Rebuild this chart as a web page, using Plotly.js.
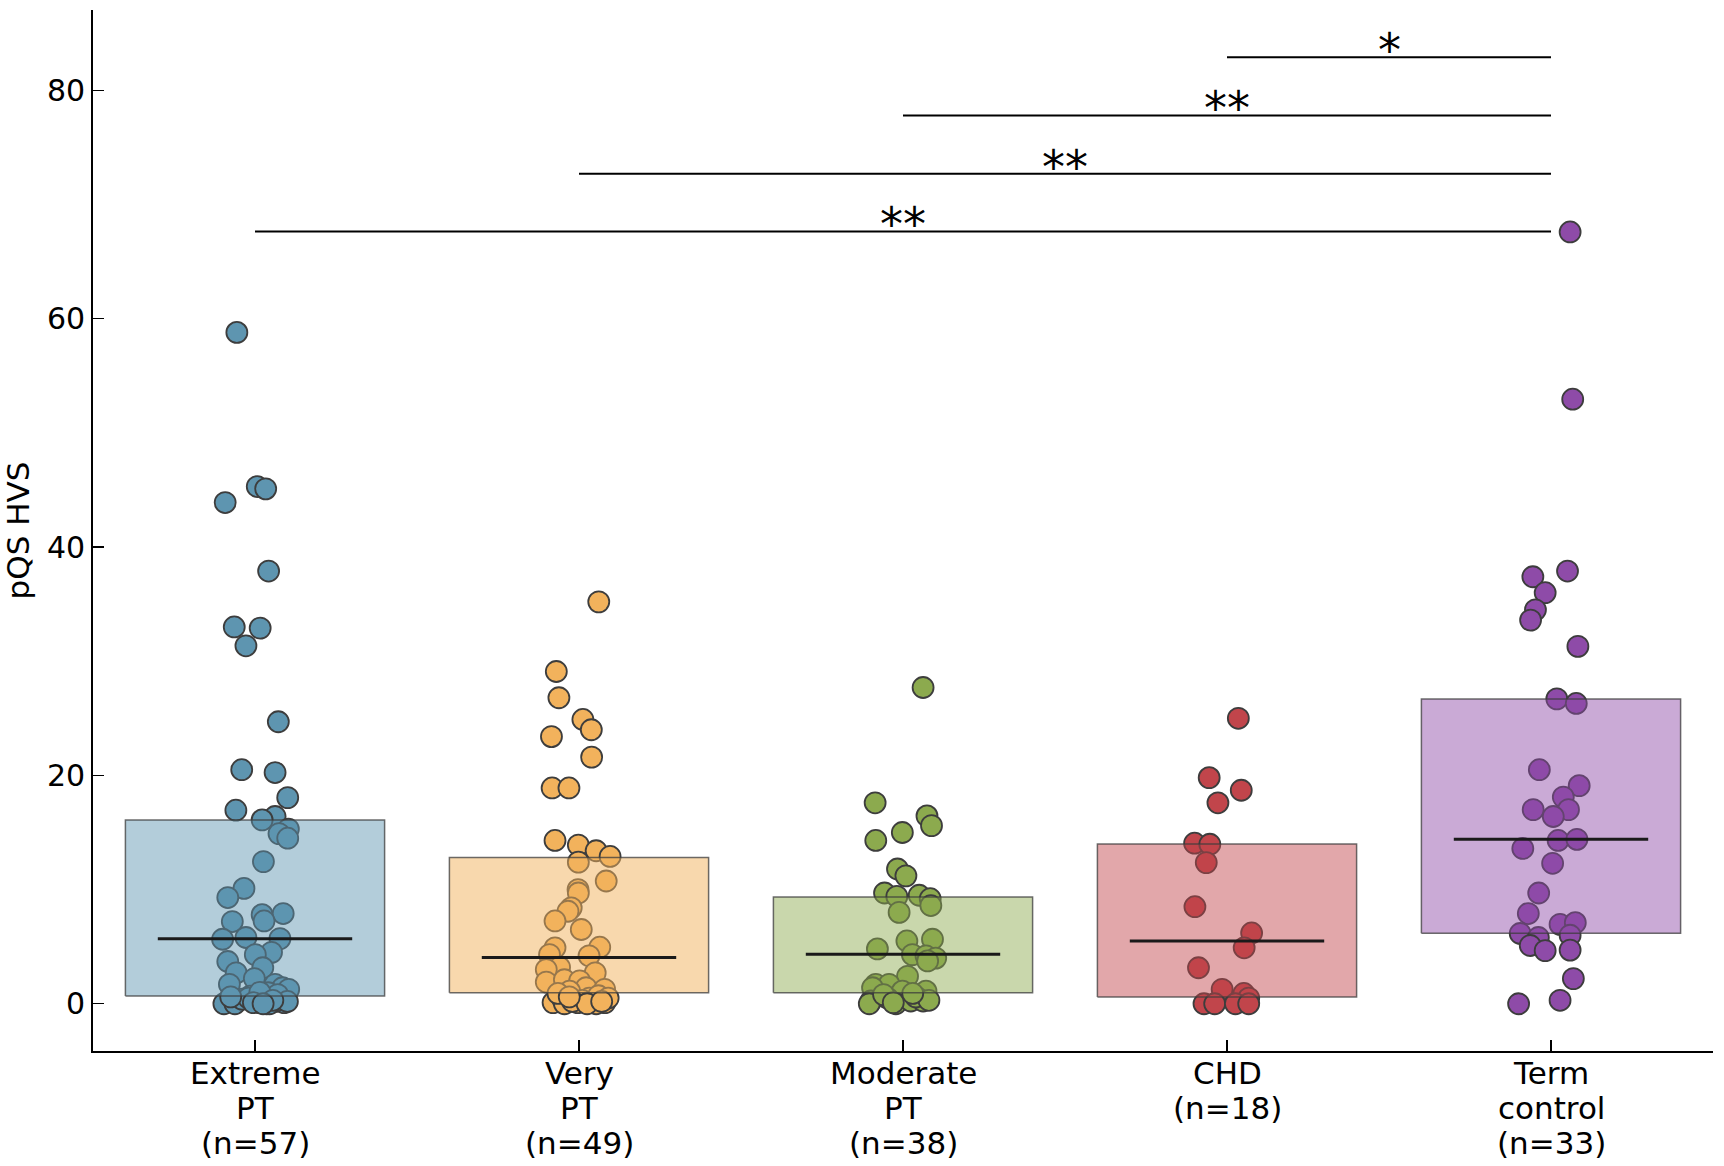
<!DOCTYPE html>
<html>
<head>
<meta charset="utf-8">
<script src="https://cdn.plot.ly/plotly-3.0.1.min.js"></script>
<style>html,body{margin:0;padding:0;background:#fff;}#chart{width:1724px;height:1166px;}</style>
</head>
<body>
<div id="chart"></div>
<script>
// ---- data ----
const categories = ['Extreme PT', 'Very PT', 'Moderate PT', 'CHD', 'Term control'];
const tickLabels = ['Extreme<br>PT<br>(n=57)', 'Very<br>PT<br>(n=49)', 'Moderate<br>PT<br>(n=38)', 'CHD<br>(n=18)', 'Term<br>control<br>(n=33)'];

const extremeVals = [58.8, 43.9, 45.3, 45.1, 37.9, 33.0, 32.9, 31.35, 24.7, 20.5, 20.25, 18.05, 16.95, 16.4, 16.1, 15.3, 14.9, 14.5, 12.45, 10.1, 9.3, 7.8, 7.9, 7.25, 7.2, 5.65, 5.8, 5.7, 4.5, 4.3, 3.7, 3.15, 2.7, 2.2, 1.7, 1.7, 1.4, 1.26, 0.96, 0.67, 0.3,
  0, 0, 0.1, 0.2, 0, 0.4, 0.1, 0.8, 0.5, 0.2, 0, 0.6, 1.0, 0.3, 0.1, 0];
const extremeJit = [-0.056, -0.092, 0.007, 0.033, 0.042, -0.064, 0.016, -0.028, 0.072, -0.041, 0.062, 0.101, -0.059, 0.062, 0.022, 0.103, 0.074, 0.101, 0.026, -0.034, -0.084, 0.022, 0.087, 0.028, -0.070, -0.100, -0.028, 0.077, 0.051, 0.001, -0.084, 0.024, -0.058, -0.002, -0.079, 0.062, 0.085, 0.104, 0.041, -0.015, 0.005,
  -0.096, -0.062, 0.090, 0.063, 0.036, -0.040, 0.010, 0.070, -0.020, 0.100, 0.045, -0.075, 0.015, 0.055, -0.005, 0.025];

const veryVals = [35.2, 29.1, 26.8, 24.9, 24.0, 23.4, 21.6, 18.9, 18.9, 14.3, 13.9, 13.4, 12.9, 12.4, 10.75, 10.0, 9.7, 8.4, 8.1, 7.25, 6.5, 4.9, 4.95, 4.2, 4.3, 3.2, 3.0, 2.7, 1.9, 2.1, 2.0, 1.4, 1.26, 1.1,
  0.1, 0.4, 0.1, 0.5, 0.1, 0, 0, 0.3, 0.7, 0.2, 0.9, 0, 0.5, 0.2, 0.6];
const veryJit = [0.061, -0.070, -0.062, 0.012, 0.038, -0.085, 0.039, -0.083, -0.031, -0.074, -0.002, 0.053, 0.096, -0.002, 0.084, -0.003, -0.002, -0.024, -0.034, -0.074, 0.007, -0.074, 0.064, 0.031, -0.091, -0.060, -0.101, 0.050, -0.101, -0.045, 0.002, 0.022, 0.079, -0.029,
  -0.080, -0.050, -0.004, 0.032, 0.080, 0.053, -0.045, 0.010, 0.060, -0.020, -0.065, 0.025, 0.090, 0.070, -0.030];

const moderateVals = [27.7, 17.6, 16.45, 15.6, 15.0, 14.3, 11.8, 11.2, 9.7, 9.4, 9.5, 9.2, 8.6, 8.0, 5.5, 5.65, 4.8, 4.3, 4.2, 4.0, 3.75, 2.4, 1.7, 1.7, 1.4, 1.1, 1.1,
  0.24, 0.5, 0, 0.24, 0.24, 0, 0.6, 0.8, 0.3, 0.1, 0.9];
const moderateJit = [0.062, -0.086, 0.074, 0.088, -0.002, -0.084, -0.017, 0.009, -0.057, -0.019, 0.050, 0.084, 0.086, -0.012, 0.012, 0.091, -0.079, 0.029, 0.071, 0.101, 0.076, 0.014, -0.084, -0.043, -0.094, -0.002, 0.071,
  -0.099, -0.048, -0.022, 0.024, 0.062, -0.104, 0.040, -0.060, 0.080, -0.030, 0.030];

const chdVals = [25.0, 19.8, 18.7, 17.6, 14.06, 13.97, 12.36, 8.5, 6.2, 4.9, 3.15, 1.26, 0.9, 0.5, 0, 0, 0, 0];
const chdJit = [0.035, -0.055, 0.044, -0.028, -0.100, -0.053, -0.064, -0.099, 0.076, 0.053, -0.088, -0.015, 0.052, 0.067, -0.071, -0.038, 0.026, 0.067];

const termVals = [67.6, 52.95, 37.4, 37.9, 36.0, 34.5, 33.6, 31.3, 26.7, 26.3, 20.5, 19.1, 18.1, 17.0, 17.0, 16.4, 14.3, 14.4, 13.6, 12.3, 9.7, 7.9, 6.15, 5.8, 6.95, 7.1, 6.0, 5.1, 4.65, 4.7, 2.2, 0, 0.3];
const termJit = [0.059, 0.067, -0.056, 0.051, -0.018, -0.048, -0.063, 0.083, 0.018, 0.078, -0.036, 0.087, 0.038, -0.055, 0.054, 0.007, 0.022, 0.080, -0.087, 0.005, -0.038, -0.070, -0.095, -0.039, 0.028, 0.075, 0.059, -0.064, -0.018, 0.059, 0.069, -0.100, 0.028];

const boxLow  = [0.67, 0.96, 0.96, 0.58, 6.17];
const boxHigh = [16.1, 12.8, 9.35, 14.0, 26.7];
const medians = [5.7, 4.05, 4.34, 5.5, 14.4];

const sigStart = [3, 2, 1, 0];
const sigEnd   = [4, 4, 4, 4];
const sigY     = [82.9, 77.8, 72.7, 67.65];
const sigText  = ['*', '**', '**', '**'];

// ---- styling ----
const pointColors = ['#5E95B0', '#F2B25C', '#8CAA4E', '#C1454B', '#8E4BA8'];
const fillColors  = ['rgba(94,149,176,0.47)', 'rgba(242,178,92,0.5)', 'rgba(140,170,78,0.47)', 'rgba(193,69,75,0.47)', 'rgba(142,75,168,0.47)'];
const FONT = 'DejaVu Sans, Liberation Sans, sans-serif';

const groupVals = [extremeVals, veryVals, moderateVals, chdVals, termVals];
const groupJit  = [extremeJit, veryJit, moderateJit, chdJit, termJit];

const traces = [];
const halfBox = 0.4, halfMed = 0.3;
groupVals.forEach((vals, i) => {
  traces.push({
    type: 'scatter', mode: 'markers', name: categories[i],
    x: groupJit[i].map(j => i + j), y: vals,
    marker: {size: 21, color: pointColors[i], line: {color: '#3d3d3d', width: 1.8}},
    hoverinfo: 'y', showlegend: false
  });
  traces.push({
    type: 'scatter', mode: 'lines', fill: 'toself',
    x: [i - halfBox, i + halfBox, i + halfBox, i - halfBox, i - halfBox],
    y: [boxLow[i], boxLow[i], boxHigh[i], boxHigh[i], boxLow[i]],
    fillcolor: fillColors[i], line: {color: 'rgba(60,60,60,0.75)', width: 1.5},
    hoverinfo: 'skip', showlegend: false
  });
  traces.push({
    type: 'scatter', mode: 'lines',
    x: [i - halfMed, i + halfMed], y: [medians[i], medians[i]],
    line: {color: '#1a1a1a', width: 3}, hoverinfo: 'skip', showlegend: false
  });
});

const annotations = [];
sigY.forEach((h, k) => {
  traces.push({
    type: 'scatter', mode: 'lines',
    x: [sigStart[k], sigEnd[k]], y: [h, h],
    line: {color: '#000', width: 2}, hoverinfo: 'skip', showlegend: false
  });
  annotations.push({
    x: (sigStart[k] + sigEnd[k]) / 2, y: h, xref: 'x', yref: 'y',
    text: sigText[k], showarrow: false, yanchor: 'bottom', yshift: -22,
    font: {family: FONT, size: 46, color: '#000'}
  });
});

// category labels below the x axis (one text per line for matplotlib-like line spacing)
const LINE_GAP = 35;
tickLabels.forEach((lbl, i) => {
  lbl.split('<br>').forEach((line, j) => {
    annotations.push({
      x: i, xref: 'x', y: 0, yref: 'paper', yanchor: 'top', xanchor: 'center',
      yshift: -3 - j * LINE_GAP, borderpad: 0,
      text: line, showarrow: false,
      font: {family: FONT, size: 31, color: '#000'}
    });
  });
});

const layout = {
  width: 1724, height: 1166,
  margin: {l: 93, r: 11, t: 10, b: 115},
  paper_bgcolor: '#fff', plot_bgcolor: '#fff',
  font: {family: FONT, size: 28, color: '#000'},
  showlegend: false,
  xaxis: {
    range: [-0.5, 4.5], tickmode: 'array', tickvals: [0, 1, 2, 3, 4], ticktext: ['', '', '', '', ''],
    showticklabels: false,
    showgrid: false, zeroline: false, showline: true, linecolor: '#000', linewidth: 1.8,
    ticks: 'inside', ticklen: 11, tickwidth: 1.5, tickcolor: '#000', fixedrange: true
  },
  yaxis: {
    range: [-4.14, 87.04], tickmode: 'array', tickvals: [0, 20, 40, 60, 80],
    showgrid: false, zeroline: false, showline: true, linecolor: '#000', linewidth: 1.8,
    ticks: 'inside', ticklen: 11, tickwidth: 1.5, tickcolor: '#000',
    tickfont: {family: FONT, size: 30, color: '#000'},
    title: {text: 'pQS HVS', font: {family: FONT, size: 31, color: '#000'}, standoff: 8},
    fixedrange: true
  },
  annotations: annotations
};

Plotly.newPlot('chart', traces, layout, {displayModeBar: false, staticPlot: true});
</script>
</body>
</html>
